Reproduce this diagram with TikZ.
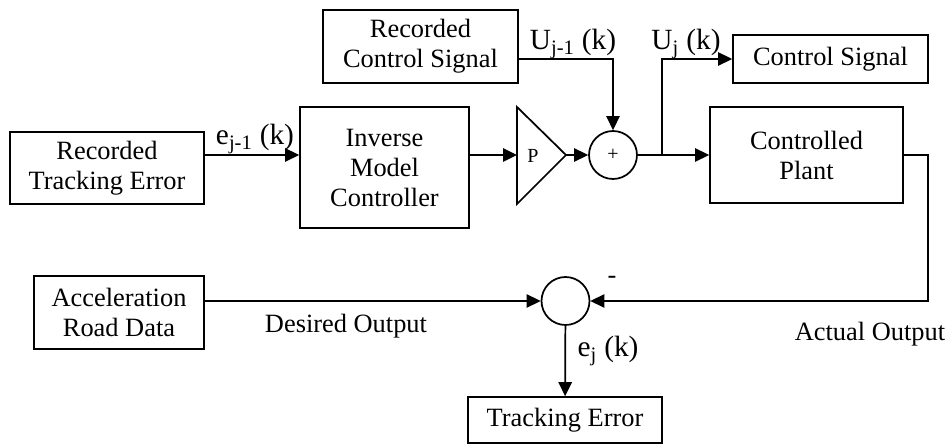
\documentclass[tikz,border=0pt]{standalone}
\usepackage{fontspec}
\setmainfont{Liberation Serif}
\usetikzlibrary{arrows.meta}

\begin{document}
\begin{tikzpicture}[x=0.75pt,y=-0.75pt, line width=1.3pt,
  blk/.style={draw,align=center,inner sep=0pt,font=\fontsize{19.8}{22.5}\selectfont},
  circ/.style={draw,circle,minimum size=36pt,inner sep=0pt},
  lbl/.style={inner sep=0pt,anchor=base,font=\fontsize{22}{24}\selectfont},
  txt/.style={inner sep=0pt,anchor=base,font=\fontsize{19.8}{22.5}\selectfont},
  >={Triangle[length=10.5pt,width=10pt]}]
  \useasboundingbox (0,0) rectangle (951,445);
  \node[blk,minimum width=145.5pt,minimum height=54pt] (rte) at (107,168) {Recorded\\Tracking Error};
  \node[blk,minimum width=126.75pt,minimum height=90.75pt] (imc) at (384.5,167.5) {Inverse\\Model\\Controller};
  \node[blk,minimum width=146.25pt,minimum height=54.75pt] (rcs) at (420.5,46.5) {Recorded\\Control Signal};
  \draw (517,107) -- (566,155) -- (517,204) -- cycle;
  \node[font=\fontsize{15}{17}\selectfont] (gain) at (533,155.5) {P};
  \coordinate (gainin) at (517,155);
  \coordinate (gainout) at (566,155);
  \node[circ,font=\fontsize{15}{17}\selectfont] (sum) at (613,155) {+};
  \node[blk,minimum width=146.25pt,minimum height=36pt] (cs) at (830.5,59) {Control Signal};
  \node[blk,minimum width=144.75pt,minimum height=72pt] (plant) at (806.5,155) {Controlled\\Plant};
  \node[blk,minimum width=127.5pt,minimum height=54.75pt] (ard) at (119,312.5) {Acceleration\\Road Data};
  \node[circ] (err) at (565.5,301) {};
  \node[blk,minimum width=145.5pt,minimum height=34.5pt] (te) at (565,420) {Tracking Error};
  \coordinate (branch) at (662,155);
  \coordinate (fb) at (928,301);
  % signal path
  \draw[->] (rte.east |- sum) -- (imc.west |- sum);
  \draw[->] (imc.east |- sum) -- (gainin);
  \draw[->] (gainout) -- (sum);
  \draw[->] (rcs.east |- cs) -| (sum);
  \draw (sum) -- (branch);
  \draw[->] (branch) -- (plant);
  \draw[->] (branch) |- (cs);
  % feedback and error
  \draw[->] (plant) -| (fb) -- (err);
  \draw[->] (ard.east |- err) -- (err);
  \draw[->] (err) -- (te);
  % labels
  \node[lbl] (ejm) at (255,145) {e\textsubscript{j-1} (k)};
  \node[lbl] (ujm) at (573,50) {U\textsubscript{j-1} (k)};
  \node[lbl] (uj) at (686,50) {U\textsubscript{j} (k)};
  \node[lbl] (ej) at (608,357) {e\textsubscript{j} (k)};
  \node[txt] (minus) at (612,284) {-};
  \node[txt] (des) at (346,333) {Desired Output};
  \node[txt] (act) at (870,341) {Actual Output};
\end{tikzpicture}
\end{document}
